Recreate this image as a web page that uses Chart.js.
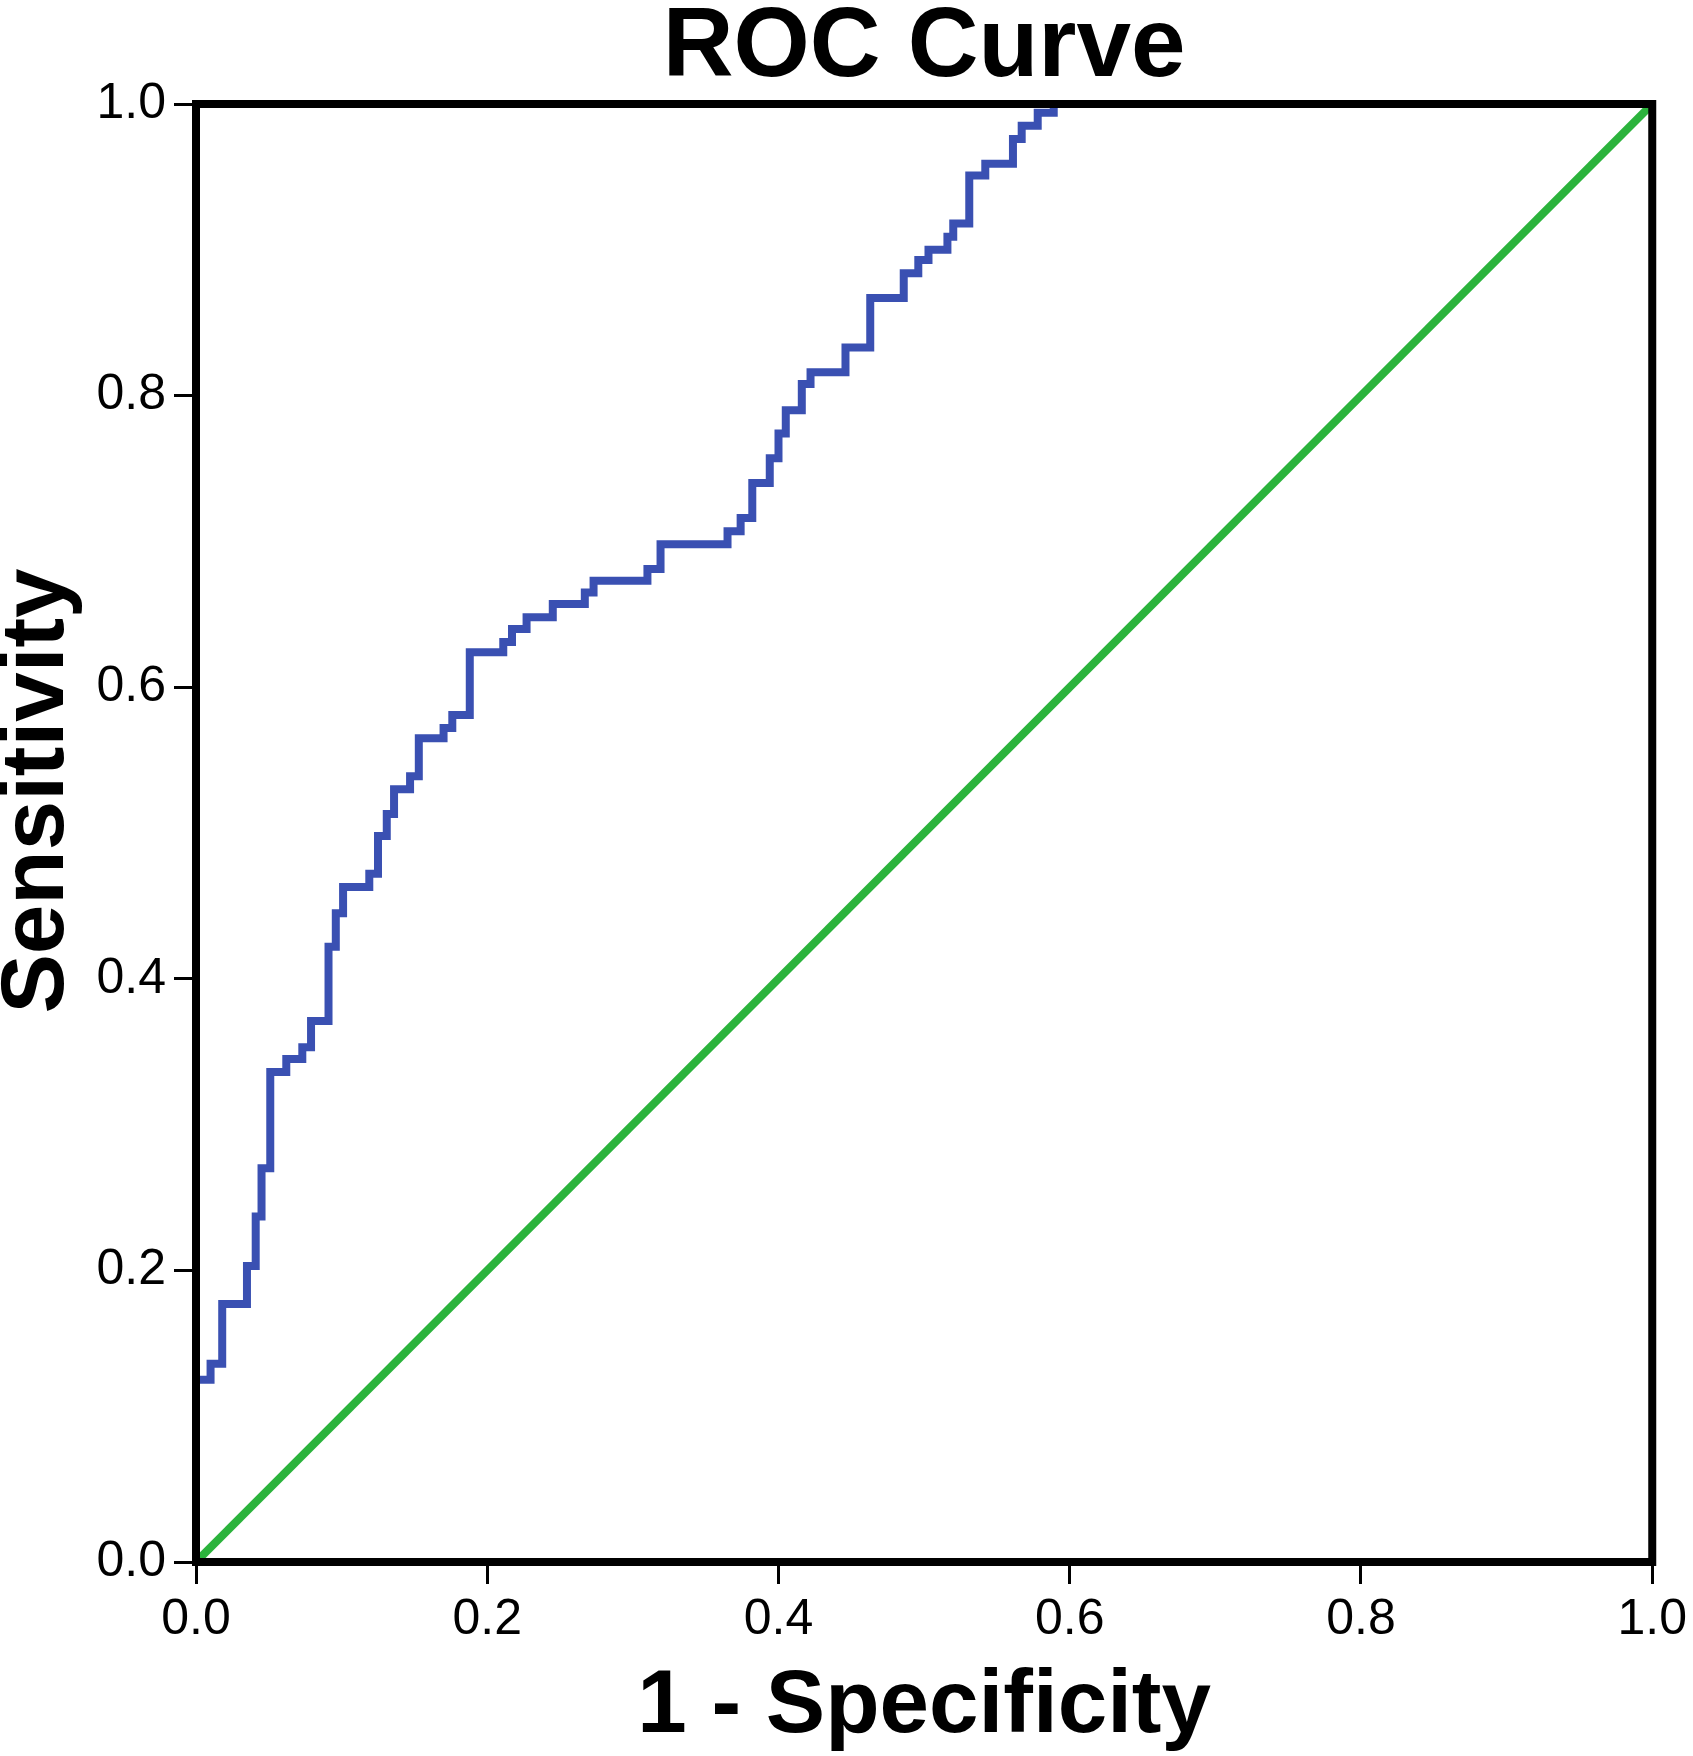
<!DOCTYPE html>
<html>
<head>
<meta charset="utf-8">
<script src="https://cdn.jsdelivr.net/npm/chart.js@4/dist/chart.umd.min.js"></script>
<style>
  html, body { margin: 0; padding: 0; background: #fff; }
  #wrap { width: 1693px; height: 1756px; position: relative; }
</style>
</head>
<body>
<div id="wrap"><canvas id="rocChart"></canvas></div>
<script>
// ROC curve points (1 - specificity, sensitivity)
const fpr = [0, 0, 0.010, 0.018, 0.035, 0.041, 0.045, 0.051, 0.062, 0.073, 0.079, 0.091, 0.096,
  0.101, 0.119, 0.125, 0.131, 0.136, 0.147, 0.153, 0.170, 0.176, 0.188, 0.211, 0.217, 0.227,
  0.245, 0.267, 0.273, 0.310, 0.319, 0.365, 0.374, 0.382, 0.394, 0.400, 0.405, 0.416, 0.422,
  0.446, 0.463, 0.486, 0.496, 0.503, 0.516, 0.520, 0.531, 0.542, 0.561, 0.567, 0.578, 0.589, 1.0];
const tpr = [0, 0.125, 0.136, 0.177, 0.203, 0.237, 0.270, 0.336, 0.345, 0.353, 0.371, 0.422, 0.445,
  0.463, 0.472, 0.498, 0.513, 0.530, 0.539, 0.565, 0.572, 0.581, 0.624, 0.631, 0.640, 0.648,
  0.657, 0.665, 0.673, 0.681, 0.698, 0.707, 0.716, 0.740, 0.757, 0.774, 0.790, 0.808, 0.816,
  0.833, 0.867, 0.884, 0.893, 0.900, 0.909, 0.918, 0.951, 0.959, 0.976, 0.985, 0.994, 1.0, 1.0];
// reference line
const refX = [0, 1];
const refY = [0, 1];
const tickValues = [0, 0.2, 0.4, 0.6, 0.8, 1.0];
const yTitle = 'Sensitivity';

const FONT = "'Liberation Sans', Arial, Helvetica, sans-serif";

// black frame round the plot, and the y title (sits a bit above the axis middle in the original)
const frame = {
  id: 'frame',
  afterDatasetsDraw(chart) {
    const a = chart.chartArea, c = chart.ctx;
    c.save();
    c.strokeStyle = '#000';
    c.lineWidth = 8;
    c.strokeRect(a.left, a.top, a.right - a.left, a.bottom - a.top);
    c.restore();
  },
  afterDraw(chart) {
    const a = chart.chartArea, c = chart.ctx;
    c.save();
    c.translate(38, (a.top + a.bottom) / 2 - 42);
    c.rotate(-Math.PI / 2);
    c.font = 'bold 89px ' + FONT;
    c.fillStyle = '#000';
    c.textAlign = 'center';
    c.textBaseline = 'middle';
    c.fillText(yTitle, 0, 0);
    c.restore();
  }
};

const ctx = document.getElementById('rocChart').getContext('2d');
new Chart(ctx, {
  type: 'scatter',
  data: {
    datasets: [
      {
        label: 'ROC',
        data: fpr.map((x, i) => ({ x: x, y: tpr[i] })),
        showLine: true,
        stepped: 'before',
        borderColor: '#3a50b2',
        borderWidth: 8,
        pointRadius: 0,
        fill: false
      },
      {
        label: 'Reference',
        data: refX.map((x, i) => ({ x: x, y: refY[i] })),
        showLine: true,
        borderColor: '#2bb33c',
        borderWidth: 8,
        pointRadius: 0,
        fill: false
      }
    ]
  },
  options: {
    responsive: true,
    maintainAspectRatio: false,
    animation: false,
    devicePixelRatio: 1,
    layout: { padding: { top: 0, right: 39, bottom: 0, left: 0 } },
    plugins: {
      legend: { display: false },
      tooltip: { enabled: false },
      title: {
        display: true,
        text: 'ROC Curve',
        fullSize: false,
        color: '#000',
        font: { family: FONT, size: 98, weight: 'bold', lineHeight: 1.0 },
        padding: { top: 0, bottom: 6 }
      }
    },
    scales: {
      x: {
        type: 'linear',
        min: 0, max: 1,
        afterBuildTicks: s => { s.ticks = tickValues.map(v => ({ value: v })); },
        afterFit: s => { s.height = 194; },
        ticks: {
          color: '#000',
          padding: 6,
          maxRotation: 0,
          font: { family: FONT, size: 50 },
          callback: v => Number(v).toFixed(1)
        },
        grid: { drawOnChartArea: false, drawTicks: true, tickLength: 22, tickWidth: 3, tickColor: '#000' },
        border: { display: false },
        title: {
          display: true,
          text: '1 - Specificity',
          color: '#000',
          font: { family: FONT, size: 89, weight: 'bold', lineHeight: 1.0 },
          padding: { top: 0, bottom: 4 }
        }
      },
      y: {
        type: 'linear',
        min: 0, max: 1,
        afterBuildTicks: s => { s.ticks = tickValues.map(v => ({ value: v })); },
        afterFit: s => { s.width = 196; },
        ticks: {
          color: '#000',
          padding: 8,
          font: { family: FONT, size: 50 },
          callback: v => Number(v).toFixed(1)
        },
        grid: { drawOnChartArea: false, drawTicks: true, tickLength: 22, tickWidth: 3, tickColor: '#000' },
        border: { display: false },
        title: { display: false }
      }
    }
  },
  plugins: [frame]
});
</script>
</body>
</html>
